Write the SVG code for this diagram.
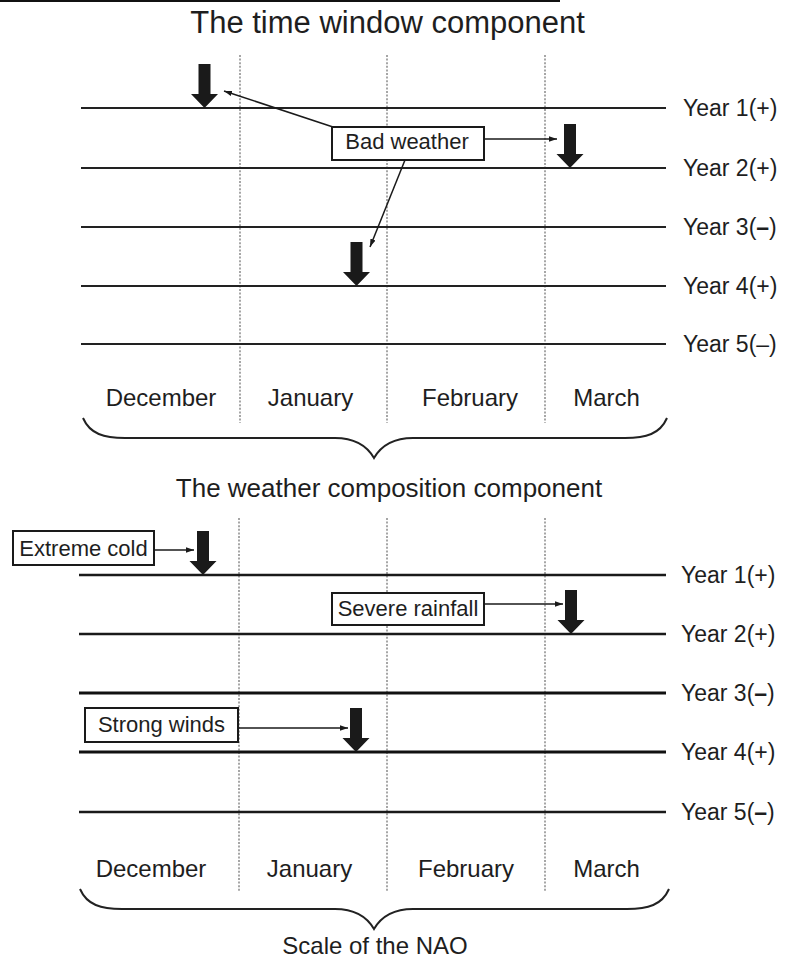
<svg xmlns="http://www.w3.org/2000/svg" width="785" height="963" viewBox="0 0 785 963">
<style>
text{font-family:"Liberation Sans",Arial,sans-serif;fill:#1e1e1e}
.t1{font-size:31px}
.t2{font-size:26px}
.mo{font-size:24px;text-anchor:middle}
.yr{font-size:23px}
.lb{font-size:22px;text-anchor:middle}
.hl{stroke:#222;stroke-width:2;fill:none}
.hb{stroke:#1a1a1a;stroke-width:2.5;fill:none}
.hbb{stroke:#111;stroke-width:3;fill:none}
.dt{stroke:#777;stroke-width:1.3;stroke-dasharray:2 1.6;fill:none}
.box{fill:#fff;stroke:#1a1a1a;stroke-width:2}
.fat{fill:#1a1a1a}
.con{stroke:#1a1a1a;stroke-width:1.5;fill:none}
.br{stroke:#222;stroke-width:2;fill:none}
.bd{font-weight:bold}
</style>
<defs>
<marker id="ah" markerWidth="9" markerHeight="7" refX="8" refY="3.5" orient="auto" markerUnits="userSpaceOnUse">
<path d="M0,0.8 L8,3.5 L0,6.2 Z" fill="#1a1a1a"/>
</marker>
<path id="fa" d="M-6,-44 L6,-44 L6,-14 L13.5,-14 L0,0 L-13.5,-14 L-6,-14 Z"/>
</defs>
<rect width="785" height="963" fill="#fff"/>
<line x1="0" y1="1" x2="560" y2="1" stroke="#111" stroke-width="2"/>

<g id="top-section">
<text class="t1" x="387.5" y="33" text-anchor="middle">The time window component</text>
<g id="top-grid">
<line class="dt" x1="240" y1="55" x2="240" y2="423"/>
<line class="dt" x1="387" y1="55" x2="387" y2="423"/>
<line class="dt" x1="545" y1="55" x2="545" y2="423"/>
<line class="hl" x1="81" y1="108" x2="666" y2="108"/>
<line class="hl" x1="81" y1="168" x2="666" y2="168"/>
<line class="hl" x1="81" y1="227" x2="666" y2="227"/>
<line class="hl" x1="81" y1="286" x2="666" y2="286"/>
<line class="hl" x1="81" y1="344" x2="666" y2="344"/>
</g>
<g id="top-years">
<text class="yr" x="683" y="116">Year 1(+)</text>
<text class="yr" x="683" y="176">Year 2(+)</text>
<text class="yr" x="683" y="235">Year 3(<tspan class="bd">–</tspan>)</text>
<text class="yr" x="683" y="294">Year 4(+)</text>
<text class="yr" x="683" y="352">Year 5(–)</text>
</g>
<g id="top-months">
<text class="mo" x="161" y="406">December</text>
<text class="mo" x="310.5" y="406">January</text>
<text class="mo" x="470" y="406">February</text>
<text class="mo" x="606.5" y="406">March</text>
</g>
<path class="br" d="M83,418 C90,434 104,438 125,438 L335,438 C355,438 367,446 374,458 C381,446 393,438 413,438 L625,438 C646,438 660,434 667,418"/>
<g id="top-arrows">
<use href="#fa" class="fat" x="204.5" y="108"/>
<use href="#fa" class="fat" x="570" y="168"/>
<use href="#fa" class="fat" x="356.5" y="286"/>
</g>
<g id="bad-weather">
<rect class="box" x="332" y="127" width="152" height="33"/>
<text class="lb" x="407" y="149">Bad weather</text>
</g>
</g>

<g id="bottom-section">
<text class="t2" x="389" y="497" text-anchor="middle">The weather composition component</text>
<g id="bottom-grid">
<line class="dt" x1="239" y1="518" x2="239" y2="892"/>
<line class="dt" x1="387" y1="518" x2="387" y2="892"/>
<line class="dt" x1="545" y1="518" x2="545" y2="892"/>
<line class="hb" x1="79" y1="575" x2="666" y2="575"/>
<line class="hb" x1="79" y1="634" x2="666" y2="634"/>
<line class="hbb" x1="79" y1="693" x2="666" y2="693"/>
<line class="hbb" x1="79" y1="752" x2="666" y2="752"/>
<line class="hb" x1="79" y1="812" x2="666" y2="812"/>
</g>
<g id="bottom-years">
<text class="yr" x="681" y="583">Year 1(+)</text>
<text class="yr" x="681" y="642">Year 2(+)</text>
<text class="yr" x="681" y="701">Year 3(<tspan class="bd">–</tspan>)</text>
<text class="yr" x="681" y="760">Year 4(+)</text>
<text class="yr" x="681" y="820">Year 5(<tspan class="bd">–</tspan>)</text>
</g>
<g id="bottom-months">
<text class="mo" x="151" y="877">December</text>
<text class="mo" x="309.5" y="877">January</text>
<text class="mo" x="466" y="877">February</text>
<text class="mo" x="606.5" y="877">March</text>
</g>
<path class="br" d="M80,889 C87,905 101,909 122,909 L335,909 C355,909 367,917 374,929 C381,917 393,909 413,909 L627,909 C648,909 662,905 669,889"/>
<text class="mo" x="375" y="954">Scale of the NAO</text>
<g id="bottom-arrows">
<use href="#fa" class="fat" x="203" y="575"/>
<use href="#fa" class="fat" x="571" y="634"/>
<use href="#fa" class="fat" x="356" y="752"/>
</g>
<g id="extreme-cold">
<rect class="box" x="13" y="531" width="141" height="34"/>
<text class="lb" x="83.5" y="556">Extreme cold</text>
</g>
<g id="severe-rainfall">
<rect class="box" x="332" y="593" width="152" height="32"/>
<text class="lb" x="408" y="616">Severe rainfall</text>
</g>
<g id="strong-winds">
<rect class="box" x="85" y="708" width="153" height="34"/>
<text class="lb" x="161.5" y="732">Strong winds</text>
</g>
</g>

<g id="connectors">
<line class="con" x1="333" y1="127" x2="224" y2="91" marker-end="url(#ah)"/>
<line class="con" x1="484" y1="139" x2="557" y2="139" marker-end="url(#ah)"/>
<line class="con" x1="405" y1="160" x2="370" y2="247" marker-end="url(#ah)"/>
<line class="con" x1="154" y1="550" x2="194" y2="550" marker-end="url(#ah)"/>
<line class="con" x1="484" y1="604" x2="563" y2="604" marker-end="url(#ah)"/>
<line class="con" x1="238" y1="728" x2="348" y2="728" marker-end="url(#ah)"/>
</g>
</svg>
